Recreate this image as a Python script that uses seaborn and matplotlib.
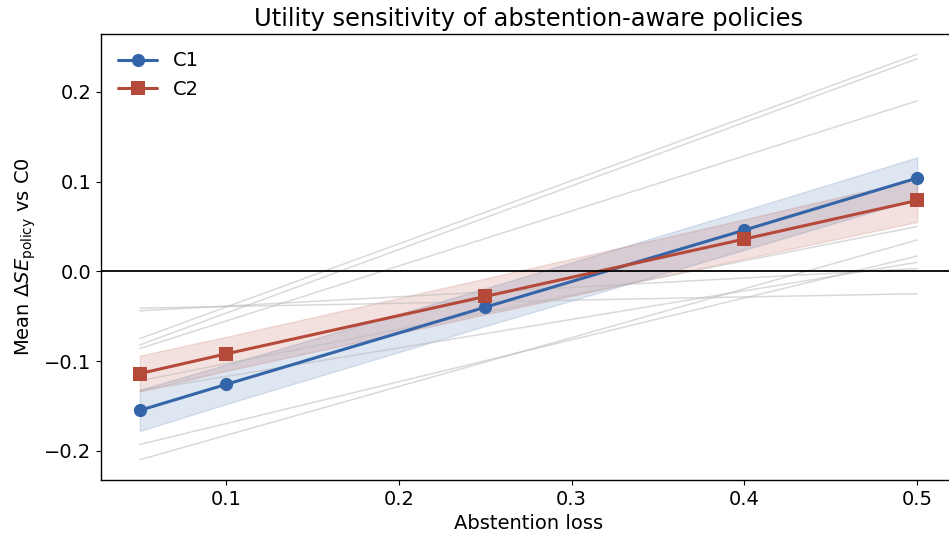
import matplotlib
matplotlib.use("Agg")
import matplotlib.pyplot as plt
import seaborn as sns
import pandas as pd
import numpy as np

# Data
loss = [0.05, 0.10, 0.25, 0.40, 0.50]
c1_mean = [-0.155, -0.126, -0.040, 0.046, 0.104]
c1_low = [-0.178, -0.148, -0.061, 0.024, 0.081]
c1_high = [-0.132, -0.104, -0.019, 0.068, 0.127]
c2_mean = [-0.114, -0.092, -0.028, 0.036, 0.079]
c2_low = [-0.134, -0.111, -0.048, 0.014, 0.055]
c2_high = [-0.094, -0.073, -0.008, 0.058, 0.103]

# Individual (grey) lines: value at loss=0.05 and at loss=0.5
unit_x = [0.05, 0.50]
unit_start = [-0.041, -0.044, -0.075, -0.082, -0.086, -0.122, -0.133, -0.193, -0.210]
unit_end = [-0.025, 0.003, 0.242, 0.237, 0.190, 0.050, 0.010, 0.017, 0.035]

sns.set_style("white", {"axes.edgecolor": "black", "text.color": "black",
                        "axes.labelcolor": "black", "xtick.color": "black",
                        "ytick.color": "black", "xtick.bottom": True,
                        "ytick.left": True})
plt.rcParams['font.family'] = ['DejaVu Sans']
plt.rcParams['xtick.major.size'] = 3.5
plt.rcParams['ytick.major.size'] = 3.5
plt.rcParams['axes.linewidth'] = 1.0

fig = plt.figure(figsize=(9.49, 5.41), dpi=100)
ax = fig.add_axes([0.1064, 0.1128, 0.9010, 0.8244])

units = pd.DataFrame({
    "x": unit_x * len(unit_start),
    "y": [v for s, e in zip(unit_start, unit_end) for v in (s, e)],
    "unit": [i for i in range(len(unit_start)) for _ in range(2)],
})
sns.lineplot(data=units, x="x", y="y", units="unit", estimator=None,
             color="#bbbbbb", alpha=0.55, lw=1.1, ax=ax, legend=False)

blue = "#3465a8"
red = "#b5493a"
ax.fill_between(loss, c1_low, c1_high, color=blue, alpha=0.16, lw=1)
ax.fill_between(loss, c2_low, c2_high, color=red, alpha=0.16, lw=1)

main = pd.DataFrame({
    "x": loss * 2,
    "y": c1_mean + c2_mean,
    "series": ["C1"] * len(loss) + ["C2"] * len(loss),
})
sns.lineplot(data=main, x="x", y="y", hue="series", style="series",
             markers={"C1": "o", "C2": "s"}, dashes=False,
             palette={"C1": blue, "C2": red}, lw=2.2, markersize=9.5,
             markeredgewidth=0, ax=ax)

ax.axhline(0, color="black", lw=1.3)
ax.set_xticks([0.1, 0.2, 0.3, 0.4, 0.5])
ax.set_yticks([-0.2, -0.1, 0.0, 0.1, 0.2])
ax.tick_params(labelsize=14, colors="black", length=3.5, width=0.8)
ax.set_xlabel("Abstention loss", fontsize=14)
ax.set_ylabel(r"Mean $\Delta SE_{\mathrm{policy}}$ vs C0", fontsize=14)
ax.set_title("Utility sensitivity of abstention-aware policies", fontsize=17.4)
ax.set_xlim(0.0275, 0.5225)
leg = ax.legend(loc="upper left", frameon=False, fontsize=14, title=None)

fig.savefig("out.png", dpi=100)
